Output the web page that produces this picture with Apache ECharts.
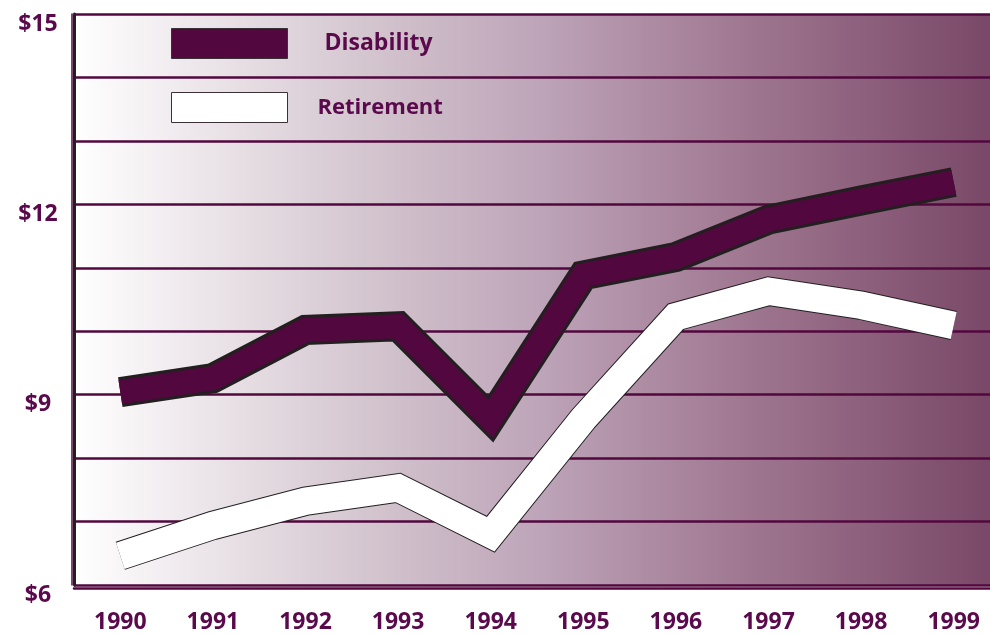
<!DOCTYPE html>
<html>
<head>
<meta charset="utf-8">
<script src="https://cdn.jsdelivr.net/npm/echarts@6/dist/echarts.min.js"></script>
<style>
  html, body { margin: 0; padding: 0; background: #fff; overflow: hidden; }
  /* canvas is a bit wider than the window: the plot runs off the right edge */
  #chart { width: 1010px; height: 635px; }
</style>
</head>
<body>
<div id="chart"></div>
<script>
// Data
const years = ['1990', '1991', '1992', '1993', '1994', '1995', '1996', '1997', '1998', '1999'];
const disability = [9.04, 9.26, 10.02, 10.08, 8.62, 10.88, 11.17, 11.76, 12.06, 12.35];
const retirement = [6.46, 6.94, 7.32, 7.53, 6.80, 8.62, 10.23, 10.63, 10.41, 10.09];
const yLabels = [6, 9, 12, 15]; // only these get a label

const purple = '#52083f';
const textPurple = '#5a0a4c';
const outline = '#231f20';
const font = '"Open Sans", "DejaVu Sans", sans-serif';

const chart = echarts.init(document.getElementById('chart'));

const option = {
  animation: false,
  grid: {
    left: 74,
    top: 14,
    width: 926,
    height: 571,
    show: true,
    borderWidth: 0,
    backgroundColor: new echarts.graphic.LinearGradient(0, 0, 1, 0, [
      { offset: 0, color: '#ffffff' },
      { offset: 0.33, color: '#d2c3cd' },
      { offset: 0.5, color: '#bea5b9' },
      { offset: 0.72, color: '#a07891' },
      { offset: 1, color: '#784666' }
    ])
  },
  legend: [
    {
      left: 171, top: 28, padding: 0,
      itemWidth: 116, itemHeight: 30,
      selectedMode: false,
      icon: 'rect',
      textStyle: { color: textPurple, fontSize: 23, fontWeight: 'bold', fontFamily: font, padding: [6, 0, 0, 32] },
      data: [{ name: 'Disability', itemStyle: { color: purple, borderColor: '#3a3035', borderWidth: 1 } }]
    },
    {
      left: 171, top: 92, padding: 0,
      itemWidth: 116, itemHeight: 30,
      selectedMode: false,
      icon: 'rect',
      textStyle: { color: textPurple, fontSize: 22, fontWeight: 'bold', fontFamily: font, padding: [0, 0, 2, 25] },
      data: [{ name: 'Retirement', itemStyle: { color: '#ffffff', borderColor: '#3a3035', borderWidth: 1 } }]
    }
  ],
  xAxis: {
    type: 'category',
    data: years,
    offset: 3,
    axisLine: { lineStyle: { color: purple, width: 2.5 } },
    axisTick: { inside: true, alignWithLabel: true, length: 11, lineStyle: { color: purple, width: 2 } },
    axisLabel: { color: textPurple, fontSize: 23, fontWeight: 'bold', fontFamily: font, margin: 23 },
    splitLine: { show: false }
  },
  yAxis: [
    {
      type: 'value',
      min: 6, max: 15, interval: 1,
      axisLine: { show: true, lineStyle: { color: outline, width: 3 } },
      axisTick: { show: false },
      axisLabel: {
        color: textPurple, fontSize: 23, fontWeight: 'bold', fontFamily: font,
        align: 'center', verticalAlign: 'top', lineHeight: 20, margin: 36,
        formatter: v => (yLabels.indexOf(v) >= 0 ? '$' + v : '')
      },
      splitLine: { lineStyle: { color: purple, width: 2.5 } }
    },
    {
      type: 'value',
      position: 'left',
      offset: 2,
      min: 6, max: 15,
      axisLine: { show: true, lineStyle: { color: purple, width: 1.5 } },
      axisTick: { show: false },
      axisLabel: { show: false },
      splitLine: { show: false }
    }
  ],
  series: [
    {
      name: 'disability-outline',
      type: 'line',
      data: disability,
      symbol: 'none',
      lineStyle: { color: outline, width: 30, cap: 'butt', join: 'miter', miterLimit: 10 },
      z: 2
    },
    {
      name: 'Disability',
      type: 'line',
      data: disability,
      symbol: 'none',
      itemStyle: { color: purple },
      lineStyle: { color: purple, width: 24, cap: 'butt', join: 'miter', miterLimit: 10 },
      z: 3
    },
    {
      name: 'retirement-outline',
      type: 'line',
      data: retirement,
      symbol: 'none',
      lineStyle: { color: outline, width: 29.5, cap: 'butt', join: 'miter', miterLimit: 10 },
      z: 2
    },
    {
      name: 'Retirement',
      type: 'line',
      data: retirement,
      symbol: 'none',
      itemStyle: { color: '#ffffff' },
      lineStyle: { color: '#ffffff', width: 27.5, cap: 'butt', join: 'miter', miterLimit: 10 },
      z: 3
    }
  ]
};

chart.setOption(option);
</script>
</body>
</html>
